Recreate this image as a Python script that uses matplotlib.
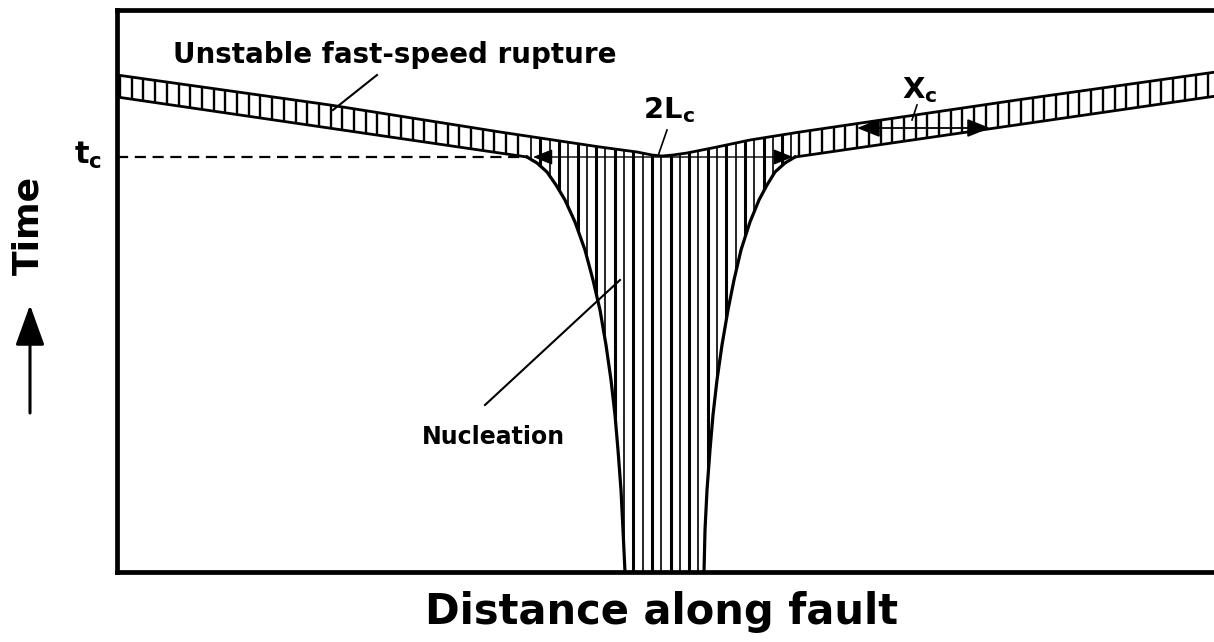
import matplotlib
matplotlib.use("Agg")
import matplotlib.pyplot as plt
import numpy as np
from matplotlib.patches import Polygon

# schematic: distance (x) and time (t), 1 unit ~ 1 px
t_c = 415

# upper edge of the fast rupture band
rupture_x = [0, 213, 383, 483, 520, 535, 545, 556, 570, 600, 633, 683, 900, 1113]
rupture_top = [497, 467, 440, 425, 420, 417, 416, 417, 419, 425, 432, 440, 472, 502]

# lower edge of the band, left and right of the nucleation zone
lower_left_x = [0, 410]
lower_left_t = [475, t_c]
lower_right_x = [678, 1113]
lower_right_t = [t_c, 478]

# nucleation zone boundaries (x at given time)
nucl_t = [415, 409, 400, 387, 372, 350, 322, 292, 262, 227, 192, 157, 122, 82, 42, 0]
nucl_left = [410, 420, 430, 439, 448, 458, 468, 476, 483, 489, 494, 498, 501, 504, 506, 508]
nucl_right = [678, 668, 658, 650, 642, 633, 624, 617, 611, 605, 600, 596, 593, 590, 588, 587]

fig = plt.figure(figsize=(12.14, 6.42), dpi=100)
ax = fig.add_axes([117 / 1214, 70 / 642, (1230 - 117) / 1214, 562 / 642])
ax.set_xlim(0, 1113)
ax.set_ylim(0, 562)
ax.set_xticks([])
ax.set_yticks([])
for s in ax.spines.values():
    s.set_linewidth(3.4)

# band outline + hatch ticks
band = Polygon(list(zip(rupture_x, rupture_top))
               + list(zip(lower_right_x[::-1], lower_right_t[::-1]))
               + list(zip(lower_left_x[::-1], lower_left_t[::-1])),
               closed=True, fc='none', ec='none')
ax.add_patch(band)
ticks = [x for x in np.arange(3, 1113, 11.7) if x < 410 or x > 680]
for x in ticks:
    ln, = ax.plot([x, x], [400, 520], color='black', lw=1.7)
    ln.set_clip_path(band)

# nucleation zone, hatched with vertical lines
top_l = np.interp(nucl_left[0], rupture_x, rupture_top)
top_r = np.interp(nucl_right[0], rupture_x, rupture_top)
mid = [(x, t) for x, t in zip(rupture_x, rupture_top) if nucl_left[0] < x < nucl_right[0]]
verts = (list(zip(nucl_left[::-1], nucl_t[::-1])) + [(nucl_left[0], top_l)] + mid
         + [(nucl_right[0], top_r)] + list(zip(nucl_right, nucl_t)))
nucl = Polygon(verts, closed=True, fc='none', ec='none')
ax.add_patch(nucl)
for i, x in enumerate(np.arange(414, 680, 9.3)):
    ln, = ax.plot([x, x], [-5, 460], color='black', lw=2.2 if i % 2 == 1 else 1.2)
    ln.set_clip_path(nucl)

ax.plot(rupture_x, rupture_top, color='black', lw=2.0)
ax.plot(lower_left_x, lower_left_t, color='black', lw=2.0)
ax.plot(lower_right_x, lower_right_t, color='black', lw=2.0)
ax.plot(nucl_left, nucl_t, color='black', lw=2.3, clip_on=False)
ax.plot(nucl_right, nucl_t, color='black', lw=2.3, clip_on=False)

# t_c line
ax.plot([0, 410], [t_c, t_c], color='black', lw=1.6, dashes=(5, 3))
ax.annotate('', xy=(416, t_c), xytext=(676, t_c),
            arrowprops=dict(arrowstyle='<|-|>,head_length=0.6,head_width=0.24',
                            mutation_scale=20, color='black', lw=1.0,
                            shrinkA=0, shrinkB=0))
# X_c arrow
ax.annotate('', xy=(740, 444), xytext=(873, 444),
            arrowprops=dict(arrowstyle='<|-|>,head_length=0.7,head_width=0.28',
                            mutation_scale=20, color='black', lw=1.3,
                            shrinkA=0, shrinkB=0))

# labels and leaders
ax.text(56, 509, 'Unstable fast-speed rupture', fontsize=20, fontweight='bold')
ax.plot([260, 216], [497, 462], color='black', lw=1.5)
ax.text(526, 454, r'$\mathbf{2L_c}$', fontsize=21)
ax.plot([550, 541], [442, 416], color='black', lw=1.2)
ax.text(785, 474, r'$\mathbf{X_c}$', fontsize=21)
ax.plot([800, 795], [467, 452], color='black', lw=1.2)
ax.text(376, 135, 'Nucleation', fontsize=17, fontweight='bold', ha='center', va='center')
ax.plot([368, 503], [167, 292], color='black', lw=1.5)

ax.text(-15, t_c + 2, r'$\mathbf{t_c}$', fontsize=22, ha='right', va='center')
ax.text(-89, 347, 'Time', fontsize=26, fontweight='bold', rotation=90,
        ha='center', va='center')
ax.annotate('', xy=(-87, 267), xytext=(-87, 159), annotation_clip=False,
            arrowprops=dict(arrowstyle='-|>,head_length=1.25,head_width=0.45',
                            mutation_scale=20, color='black', lw=2.2,
                            shrinkA=0, shrinkB=0))
ax.text(545, -40, 'Distance along fault', fontsize=30, fontweight='bold',
        ha='center', va='center')

fig.savefig('out.png', dpi=100)
